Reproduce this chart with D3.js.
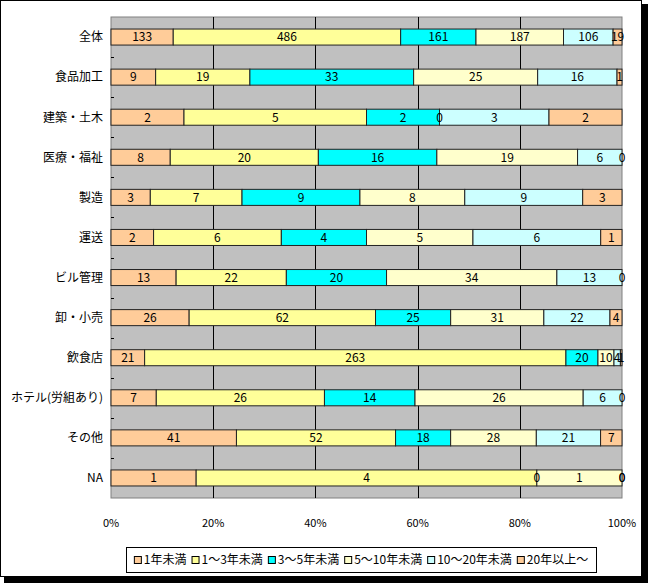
<!DOCTYPE html>
<html>
<head>
<meta charset="utf-8">
<script src="https://cdn.jsdelivr.net/npm/d3@7"></script>
<style>
  body { margin: 0; background: #fff; }
  svg { display: block; }
  text { font-family: "Liberation Sans Narrow", "Noto Sans CJK JP", sans-serif; }
</style>
</head>
<body>
<svg id="chart"></svg>
<script>
// categories (top to bottom)
var categories = ["全体", "食品加工", "建築・土木", "医療・福祉", "製造", "運送", "ビル管理", "卸・小売", "飲食店", "ホテル(労組あり)", "その他", "NA"];
var seriesNames = ["1年未満", "1〜3年未満", "3〜5年未満", "5〜10年未満", "10〜20年未満", "20年以上〜"];
var seriesColors = ["#ffcc99", "#ffff99", "#00ffff", "#ffffcc", "#ccffff", "#ffcc99"];

// values per series, one per category
var lt1   = [133, 9, 2, 8, 3, 2, 13, 26, 21, 7, 41, 1];
var y1to3 = [486, 19, 5, 20, 7, 6, 22, 62, 263, 26, 52, 4];
var y3to5 = [161, 33, 2, 16, 9, 4, 20, 25, 20, 14, 18, 0];
var y5to10 = [187, 25, 0, 19, 8, 5, 34, 31, 10, 26, 28, 1];
var y10to20 = [106, 16, 3, 6, 9, 6, 13, 22, 4, 6, 21, 0];
var y20up = [19, 1, 2, 0, 3, 1, 0, 4, 1, 0, 7, 0];

var xTicks = [0, 0.2, 0.4, 0.6, 0.8, 1];

var width = 648, height = 583;
var margin = { top: 17, right: 26, bottom: 85, left: 111 };

var allSeries = [lt1, y1to3, y3to5, y5to10, y10to20, y20up];
var data = categories.map(function (c, i) {
    var row = { cat: c };
    seriesNames.forEach(function (s, j) { row[s] = allSeries[j][i]; });
    return row;
});

var stacked = d3.stack().keys(seriesNames).offset(d3.stackOffsetExpand)(data);

var x = d3.scaleLinear().domain([0, 1]).range([margin.left, width - margin.right]);
var y = d3.scaleBand().domain(categories)
    .range([margin.top, height - margin.bottom])
    .paddingInner(0.6).paddingOuter(0.3);

var svg = d3.select("#chart").attr("width", width).attr("height", height);

// outer frame with shadow
svg.append("rect").attr("x", 642).attr("y", 4).attr("width", 6).attr("height", 579).attr("fill", "#000");
svg.append("rect").attr("x", 4).attr("y", 577).attr("width", 644).attr("height", 6).attr("fill", "#000");
svg.append("rect").attr("x", 0.5).attr("y", 0.5).attr("width", 641).attr("height", 576)
    .attr("fill", "#fff").attr("stroke", "#000");

// plot area
svg.append("rect")
    .attr("x", x(0)).attr("y", margin.top)
    .attr("width", x(1) - x(0)).attr("height", height - margin.bottom - margin.top)
    .attr("fill", "#c0c0c0").attr("stroke", "#808080");

// vertical gridlines
svg.append("g").selectAll("line")
    .data(xTicks.slice(1, -1))
    .join("line")
    .attr("x1", function (d) { return Math.round(x(d)) + 0.5; })
    .attr("x2", function (d) { return Math.round(x(d)) + 0.5; })
    .attr("y1", margin.top).attr("y2", height - margin.bottom)
    .attr("stroke", "#000");

// category boundary ticks
var step = y.step();
svg.append("g").selectAll("line")
    .data(d3.range(1, categories.length))
    .join("line")
    .attr("x1", x(0)).attr("x2", x(0) + 3)
    .attr("y1", function (i) { return Math.round(margin.top + i * step) + 0.5; })
    .attr("y2", function (i) { return Math.round(margin.top + i * step) + 0.5; })
    .attr("stroke", "#000");

// bars
var layers = svg.append("g").selectAll("g")
    .data(stacked)
    .join("g")
    .attr("fill", function (d, i) { return seriesColors[i]; });

layers.selectAll("rect")
    .data(function (d) { return d; })
    .join("rect")
    .attr("x", function (d) { return x(d[0]); })
    .attr("y", function (d) { return y(d.data.cat); })
    .attr("width", function (d) { return x(d[1]) - x(d[0]); })
    .attr("height", y.bandwidth())
    .attr("stroke", "#222")
    .attr("stroke-width", 1);

// value labels
var labels = svg.append("g");
stacked.forEach(function (layer) {
    labels.selectAll(null)
        .data(layer)
        .join("text")
        .attr("x", function (d) { return (x(d[0]) + x(d[1])) / 2; })
        .attr("y", function (d) { return y(d.data.cat) + y.bandwidth() / 2; })
        .attr("dy", "0.36em")
        .attr("text-anchor", "middle")
        .attr("font-size", 12)
        .attr("fill", "#000")
        .text(function (d) { return d.data[layer.key]; });
});

// y axis labels
svg.append("g").selectAll("text")
    .data(categories)
    .join("text")
    .attr("x", x(0) - 8)
    .attr("y", function (d) { return y(d) + y.bandwidth() / 2; })
    .attr("dy", "0.36em")
    .attr("text-anchor", "end")
    .attr("font-size", 12)
    .text(function (d) { return d; });

// x axis labels
svg.append("g").selectAll("text")
    .data(xTicks)
    .join("text")
    .attr("x", function (d) { return x(d); })
    .attr("y", 527)
    .attr("text-anchor", "middle")
    .attr("font-size", 11)
    .text(function (d) { return Math.round(d * 100) + "%"; });

// legend, laid out from measured text widths
var legend = svg.append("g");
var legendBox = legend.append("rect")
    .attr("y", 547.5).attr("height", 25)
    .attr("fill", "#fff").attr("stroke", "#000");
var items = legend.selectAll("g")
    .data(seriesNames)
    .join("g");
items.append("rect")
    .attr("x", 0.5).attr("y", -3.5).attr("width", 7).attr("height", 7)
    .attr("fill", function (d, i) { return seriesColors[i]; })
    .attr("stroke", "#000");
items.append("text")
    .attr("x", 10).attr("dy", "0.36em")
    .attr("font-size", 12)
    .text(function (d) { return d; });

var widths = [];
items.select("text").each(function () { widths.push(10 + this.getComputedTextLength()); });
var gap = 5;
var total = d3.sum(widths) + gap * (widths.length - 1);
var boxLeft = 126, boxRight = 596;
var lx = (boxLeft + boxRight) / 2 - total / 2;
items.attr("transform", function (d, i) {
    var t = "translate(" + lx + ",560)";
    lx += widths[i] + gap;
    return t;
});
legendBox.attr("x", boxLeft + 0.5).attr("width", boxRight - boxLeft);
</script>
</body>
</html>
